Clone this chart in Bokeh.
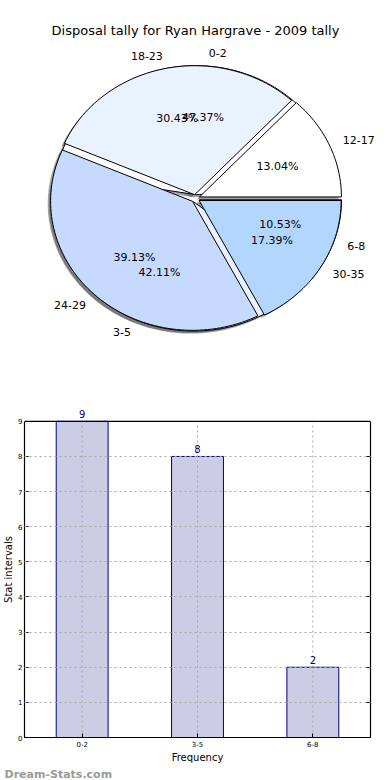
import numpy as np
from bokeh.plotting import figure
from bokeh.models import (Range1d, FactorRange, Label, ColumnDataSource, FixedTicker,
                          LinearAxis, Span, Title)
from bokeh.embed import file_html
from bokeh.resources import INLINE
from bokeh.core.properties import value

# ---------------- data ----------------
title_text = "Disposal tally for Ryan Hargrave - 2009 tally"
pie1_labels = ["0-2", "3-5", "6-8"]
pie1_counts = [9, 8, 2]
pie2_labels = ["12-17", "18-23", "24-29", "30-35"]
pie2_counts = [3, 7, 9, 4]
pie_colors = ["#FFFFFF", "#EBF2FF", "#C6D9FE", "#B3D6FF"]
bar_categories = ["0-2", "3-5", "6-8"]
bar_values = [9, 8, 2]
y_ticks = list(range(0, 10))
y_max = 9
x_title = "Frequency"
y_title = "Stat intervals"
watermark = "Dream-Stats.com"

FONT = "DejaVu Sans"

# ---------------- pie figure ----------------
RX, RY = 142, 129          # pixels per unit radius (elliptical pie)
EXPLODE = 0.03
SHADOW_OFF = -0.02
W1, H1 = 390, 388
CX, CY = 195, 198          # pie centre, px from top-left

p = figure(width=W1, height=H1, output_backend="svg", toolbar_location=None,
           x_range=Range1d(-CX / RX, (W1 - CX) / RX),
           y_range=Range1d(-(H1 - CY) / RY, CY / RY),
           x_axis_location=None, y_axis_location=None, min_border=0)
p.grid.visible = False
p.outline_line_color = None


def pie_geometry(counts):
    counts = np.asarray(counts, dtype=float)
    fr = counts / counts.sum()
    edges = np.concatenate([[0.0], np.cumsum(fr)]) * 2 * np.pi
    out = []
    for i in range(len(counts)):
        t0, t1 = edges[i], edges[i + 1]
        mid = 0.5 * (t0 + t1)
        dx, dy = EXPLODE * np.cos(mid), EXPLODE * np.sin(mid)
        n = max(4, int(200 * (t1 - t0) / (2 * np.pi)) + 2)
        t = np.linspace(t0, t1, n)
        xs = np.concatenate([[dx], dx + np.cos(t), [dx]])
        ys = np.concatenate([[dy], dy + np.sin(t), [dy]])
        out.append((xs, ys, mid, dx, dy, fr[i]))
    return out


geo1 = pie_geometry(pie1_counts)
geo2 = pie_geometry(pie2_counts)

# shadows (below every wedge)
sh_xs, sh_ys = [], []
for g in geo1 + geo2:
    sh_xs.append((g[0] + SHADOW_OFF).tolist())
    sh_ys.append((g[1] + SHADOW_OFF).tolist())
p.patches(sh_xs, sh_ys, fill_color="#4d4d4d", fill_alpha=0.5, line_color=None)

for geo in (geo1, geo2):
    p.patches([g[0].tolist() for g in geo], [g[1].tolist() for g in geo],
              fill_color=pie_colors[:len(geo)], line_color="black", line_width=1)


def text_sources(geo, labels):
    lx, ly, la, px, py, pt = [], [], [], [], [], []
    for g, lab in zip(geo, labels):
        xs, ys, mid, dx, dy, f = g
        x = dx + 1.1 * np.cos(mid)
        y = dy + 1.1 * np.sin(mid)
        lx.append(x); ly.append(y); la.append("left" if x > 0 else "right")
        px.append(dx + 0.6 * np.cos(mid)); py.append(dy + 0.6 * np.sin(mid))
        pt.append("%.2f%%" % (100 * f))
    return (ColumnDataSource(dict(x=lx, y=ly, text=list(labels), align=la)),
            ColumnDataSource(dict(x=px, y=py, text=pt)))


for geo, labels in ((geo1, pie1_labels), (geo2, pie2_labels)):
    lab_src, pct_src = text_sources(geo, labels)
    p.text(x="x", y="y", text="text", text_align="align", text_baseline="middle",
           text_font=value(FONT), text_font_size="11px", text_color="black",
           source=lab_src)
    p.text(x="x", y="y", text="text", text_align="center", text_baseline="middle",
           text_font=value(FONT), text_font_size="11px", text_color="black",
           source=pct_src)

p.add_layout(Label(x=CX, y=H1 - 30, x_units="screen", y_units="screen",
                   text=title_text, text_align="center", text_baseline="middle",
                   text_font=FONT, text_font_size="13px", text_color="black"))

# ---------------- bar figure ----------------
W2, H2 = 390, 392
BL, BR, BT, BB = 20, 20, 13, 40
BOX_TOP = 33                      # px from figure top where the axes box starts
frame_h = H2 - BT - BB
box_h = H2 - BOX_TOP - BB
y_end = y_max * frame_h / box_h   # room above the box for the value labels

b = figure(width=W2, height=H2, output_backend="svg", toolbar_location=None,
           x_range=FactorRange(*bar_categories), y_range=Range1d(0, y_end),
           min_border_left=BL, min_border_right=BR, min_border_top=BT,
           min_border_bottom=BB)
b.outline_line_color = None
b.xgrid.visible = False

b.vbar(x=bar_categories, top=bar_values, width=0.45, fill_color="#CCCCE5",
       line_color="#000080", line_width=1)
# vertical dotted grid lines (over the bars) limited to the axes box
b.segment(x0=bar_categories, y0=[0] * len(bar_categories), x1=bar_categories,
          y1=[y_max] * len(bar_categories), line_color="#a8a8a8",
          line_dash="2 3", line_width=1)
b.text(x=bar_categories, y=bar_values, text=[str(v) for v in bar_values],
       text_align="center", text_baseline="bottom", y_offset=-3,
       text_font=value(FONT), text_font_size="10px", text_color="#000080")

right_axis = LinearAxis(bounds=(0, y_max), ticker=FixedTicker(ticks=y_ticks))
b.add_layout(right_axis, "right")
right_axis.major_label_text_color = None
right_axis.major_label_text_font_size = "7px"

for ax in (b.xaxis[0], b.yaxis[0], right_axis):
    ax.major_tick_in = 4
    ax.major_tick_out = 0
    ax.minor_tick_line_color = None
    ax.axis_line_color = "black"
    ax.axis_line_width = 1.2
    ax.major_label_text_font = FONT
    ax.major_label_text_font_size = "7px"
    ax.axis_label_text_font = FONT
    ax.axis_label_text_font_size = "10px"
    ax.axis_label_text_font_style = "normal"
    ax.axis_label_text_color = "black"
b.xaxis[0].major_label_text_color = "black"
b.yaxis[0].major_label_text_color = "black"
b.yaxis[0].ticker = FixedTicker(ticks=y_ticks)
b.yaxis[0].bounds = (0, y_max)
b.yaxis[0].major_label_standoff = 2
b.yaxis[0].axis_label_standoff = 1
b.yaxis[0].axis_label = y_title
b.xaxis[0].axis_label = x_title
b.xaxis[0].major_label_standoff = 3
b.xaxis[0].axis_label_standoff = 2

b.ygrid.grid_line_color = "#a8a8a8"
b.ygrid.grid_line_dash = "2 3"
b.ygrid.grid_line_width = 1
b.ygrid.level = "overlay"

top_border = Span(location=y_max, dimension="width", line_color="black",
                  line_width=1.2)
top_border.level = "overlay"
b.add_layout(top_border)

b.add_layout(Title(text=watermark, align="left", offset=-BL, standoff=0,
                   text_font=FONT, text_font_size="11px", text_font_style="bold",
                   text_color="#9a9a9a"), "below")

open("out.html", "w").write(file_html([p, b], INLINE))
